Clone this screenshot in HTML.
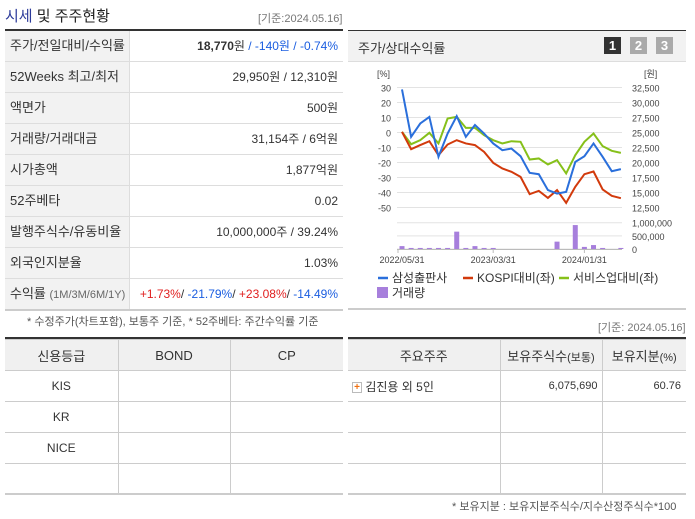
<!DOCTYPE html>
<html><head><meta charset="utf-8"><style>
*{margin:0;padding:0;box-sizing:border-box}
body{width:695px;height:519px;background:#fff;font-family:"Liberation Sans","Noto Sans CJK KR",sans-serif;color:#333;position:relative;overflow:hidden;font-size:12px}
.a{position:absolute;white-space:nowrap}
.row{position:absolute;left:5px;width:338px;height:31px;border-bottom:1px solid #ddd}
.row .l{position:absolute;left:0;top:0;width:125px;height:30px;background:#f2f2f2;border-right:1px solid #ddd;padding-left:5px;line-height:30px;font-size:13px;color:#333}
.row .v{position:absolute;right:5px;top:0;line-height:30px;font-size:12px;color:#333}
.red{color:#e02020}.blue{color:#1a5de0}
table{position:absolute;border-collapse:collapse;font-size:12px}
td{border:1px solid #ccc;height:31px;text-align:center;color:#333}
tr.h td{background:#f0f0f0;font-size:13px}
td:first-child{border-left:none}td:last-child{border-right:none}
</style></head><body>
<div class="a" style="left:5px;top:5px;font-size:15px;color:#222"><span style="color:#2b3a9a">시세</span> 및 주주현황</div>
<div class="a" style="left:258px;top:10px;font-size:11px;color:#777">[기준:2024.05.16]</div>
<div class="a" style="left:5px;top:29px;width:338px;height:2px;background:#333"></div>
<div id="rows"></div>
<div class="a" style="left:5px;top:309px;width:338px;height:2px;background:#ccc"></div>
<div class="a" style="left:27px;top:313px;font-size:11px;color:#555">* 수정주가(차트포함), 보통주 기준, * 52주베타: 주간수익률 기준</div>

<div class="a" style="left:348px;top:30px;width:338px;height:280px;border-top:1px solid #333;border-bottom:2px solid #ccc"></div>
<div class="a" style="left:348px;top:31px;width:338px;height:31px;background:#f2f2f2;border-bottom:1px solid #ddd"></div>
<div class="a" style="left:358px;top:38px;font-size:13px;color:#333">주가/상대수익률</div>
<div class="a" style="left:604px;top:37px;width:17px;height:17px;background:#333;color:#fff;font-weight:bold;text-align:center;line-height:17px;font-size:13px">1</div>
<div class="a" style="left:630px;top:37px;width:17px;height:17px;background:#aaa;color:#fff;font-weight:bold;text-align:center;line-height:17px;font-size:13px">2</div>
<div class="a" style="left:656px;top:37px;width:17px;height:17px;background:#aaa;color:#fff;font-weight:bold;text-align:center;line-height:17px;font-size:13px">3</div>
<svg class="a" style="left:0;top:0" width="695" height="519" id="chart" font-family="Liberation Sans, Noto Sans CJK KR, sans-serif"></svg>

<div class="a" style="left:598px;top:319px;font-size:11px;color:#777">[기준: 2024.05.16]</div>
<div class="a" style="left:5px;top:337px;width:338px;height:2px;background:#333"></div>
<table style="left:5px;top:339px;width:338px">
<tr class="h"><td style="width:113px">신용등급</td><td style="width:112px">BOND</td><td>CP</td></tr>
<tr><td>KIS</td><td></td><td></td></tr><tr><td>KR</td><td></td><td></td></tr><tr><td>NICE</td><td></td><td></td></tr><tr><td></td><td></td><td></td></tr>
</table>
<div class="a" style="left:5px;top:493px;width:338px;height:2px;background:#ccc"></div>
<div class="a" style="left:348px;top:337px;width:338px;height:2px;background:#333"></div>
<table style="left:348px;top:339px;width:338px">
<tr class="h"><td style="width:152px">주요주주</td><td style="width:102px">보유주식수<span style="font-size:11px">(보통)</span></td><td>보유지분<span style="font-size:11px">(%)</span></td></tr>
<tr><td style="text-align:left;padding-left:4px"><span style="display:inline-block;width:10px;height:11px;border:1px solid #bbb;color:#f07010;font-size:10px;line-height:9px;text-align:center;font-weight:bold;vertical-align:middle">+</span> 김진용 외 5인</td><td style="text-align:right;padding-right:4px;font-size:11px">6,075,690</td><td style="text-align:right;padding-right:5px;font-size:11px">60.76</td></tr>
<tr><td></td><td></td><td></td></tr><tr><td></td><td></td><td></td></tr><tr><td></td><td></td><td></td></tr>
</table>
<div class="a" style="left:348px;top:493px;width:338px;height:2px;background:#ccc"></div>
<div class="a" style="left:452px;top:498px;font-size:11px;color:#555">* 보유지분 : 보유지분주식수/지수산정주식수*100</div>

<script>
const rowLabels=["주가/전일대비/수익률","52Weeks 최고/최저","액면가","거래량/거래대금","시가총액","52주베타","발행주식수/유동비율","외국인지분율","수익률 <span style='font-size:11px;color:#666'>(1M/3M/6M/1Y)</span>"];
const rowValues=["<b>18,770</b>원 <span class='blue'>/ -140원 / -0.74%</span>","29,950원 / 12,310원","500원","31,154주 / 6억원","1,877억원","0.02","10,000,000주 / 39.24%","1.03%","<span class='red'>+1.73%</span>/ <span class='blue'>-21.79%</span>/ <span class='red'>+23.08%</span>/ <span class='blue'>-14.49%</span>"];
const rowsEl=document.getElementById('rows');
rowLabels.forEach((t,i)=>{
 const r=document.createElement('div');r.className='row';r.style.top=(31+i*31)+'px';
 
 
 r.innerHTML="<div class='l'>"+t+"</div><div class='v'>"+rowValues[i]+"</div>";
 rowsEl.appendChild(r);
});

const samsung=[28.7,-2.9,6,10.4,-16.2,-0.7,10.9,-2.9,5,-0.7,-7.3,-11.8,-10.7,-15.8,-26.9,-27.8,-38.4,-40.7,-39.6,-19.6,-15.8,-7.3,-16.2,-25.8,-24.4];
const kospi=[0.4,-11.1,-8.4,-5.8,-15.1,-8,-5.1,-7.3,-8.4,-12.9,-20.2,-24,-26.2,-29.6,-41.1,-38.9,-43.6,-38.4,-46.9,-36.2,-27.8,-26,-38,-42.2,-43.8];
const service=[0.4,-7.8,-5.1,-0.2,-7.3,9.3,10.4,3.1,3.1,-1.8,-5.1,-7.3,-5.8,-6.2,-18,-17.3,-21.3,-18.4,-27.3,-15.1,-6.2,-0.7,-9.1,-12.2,-13.6];
const volume=[110000,40000,40000,40000,40000,40000,660000,40000,110000,40000,40000,0,0,0,0,0,0,280000,0,910000,80000,150000,40000,0,40000];
const leftTicks=[30,20,10,0,-10,-20,-30,-40,-50];
const rightTicks=["32,500","30,000","27,500","25,000","22,500","20,000","17,500","15,000","12,500"];
const volTicks=[1000000,500000,0];
const xLabels=[[0,"2022/05/31"],[10,"2023/03/31"],[20,"2024/01/31"]];
const svg=document.getElementById('chart');const NS="http://www.w3.org/2000/svg";
function mk(tag,at,txt){const e=document.createElementNS(NS,tag);for(const k in at)e.setAttribute(k,at[k]);if(txt!==undefined)e.textContent=txt;svg.appendChild(e);return e;}
const X=i=>402+i*9.12, Y=v=>87.5-(v-30)*1.5, VY=v=>249-v*26.3e-6;
leftTicks.forEach((t,i)=>{const y=Y(t);
 const g=mk('line',{x1:397,x2:622,y1:y,y2:y,stroke:'#e3e3e3'});
 const a=mk('text',{x:391,y:y+4,'text-anchor':'end','font-size':9,fill:'#444'},t);
 const b=mk('text',{x:632,y:y+4,'font-size':9,fill:'#444'},rightTicks[i]);
});
mk('text',{x:377,y:77,'font-size':9,fill:'#444'},'[%]');mk('text',{x:644,y:77,'font-size':9,fill:'#444'},'[원]');
volTicks.forEach(t=>{const y=VY(t);
 const g=mk('line',{x1:397,x2:622,y1:y,y2:y,stroke:'#e3e3e3'});
 const b=mk('text',{x:632,y:y+4,'font-size':9,fill:'#444'},t.toLocaleString('en-US'));
});
mk('line',{x1:397,x2:622,y1:249.5,y2:249.5,stroke:'#bbb'});
volume.forEach((v,i)=>{const b=mk('rect',{x:X(i)-2.5,y:VY(v)-(v>0?0:0),width:5,height:249-VY(v),fill:'#a77fdc'});});
xLabels.forEach(([i,t])=>{mk('line',{x1:X(i)-(i==0?4:0),x2:X(i)-(i==0?4:0),y1:249,y2:253,stroke:'#bbb'});
 const e=mk('text',{x:X(i),y:263,'text-anchor':'middle','font-size':9,fill:'#444'},t);});
[[service,'#86c01a','service-line'],[kospi,'#d23a0c','kospi-line'],[samsung,'#2a6fdb','samsung-line']].forEach(([d,c,n])=>{
 const p=mk('polyline',{points:d.map((v,i)=>X(i)+','+Y(v)).join(' '),fill:'none',stroke:c,'stroke-width':2});
 
 
});
const leg=[[378,'#2a6fdb','삼성출판사'],[463,'#d23a0c','KOSPI대비(좌)'],[559,'#86c01a','서비스업대비(좌)']];
leg.forEach(([x,c,t])=>{mk('line',{x1:x,x2:x+10,y1:278,y2:278,stroke:c,'stroke-width':2.5});
 const e=mk('text',{x:x+14,y:282,'font-size':12,fill:'#333'},t);});
mk('rect',{x:377,y:287,width:11,height:11,fill:'#a77fdc'});
const lv=mk('text',{x:392,y:297,'font-size':12,fill:'#333'},'거래량');
</script>
</body></html>
